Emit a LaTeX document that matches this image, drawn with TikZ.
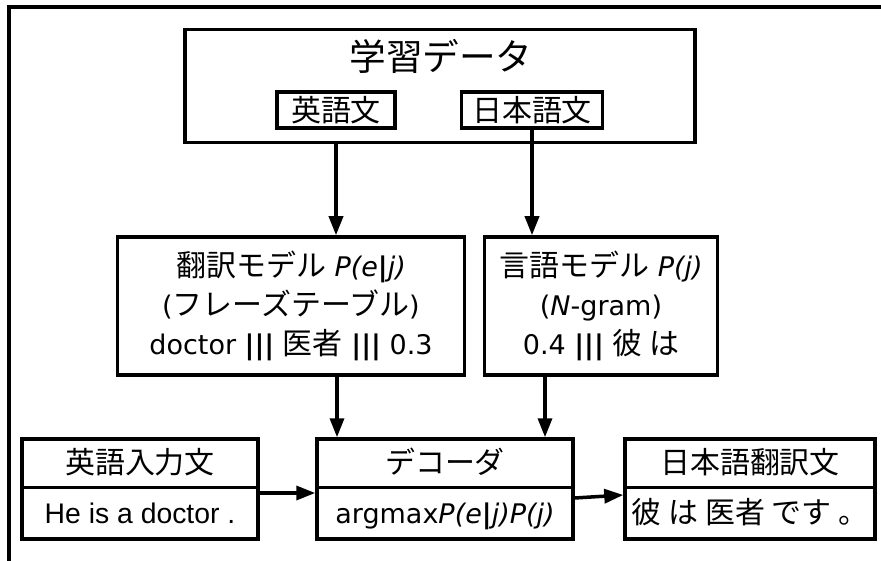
\documentclass[tikz,border=0pt]{standalone}
\usepackage{fontspec}
\setmainfont{DejaVu Sans}
\newfontfamily\jp[Scale=1.11]{Noto Sans CJK JP}
\newfontfamily\arialfont[Scale=1.05]{Liberation Sans}
\usepackage{tikz}
\usetikzlibrary{shapes,arrows.meta,positioning}

\newcommand{\topstrut}{\rule[-12pt]{0pt}{45pt}}
\newcommand{\botstrut}{\rule[-14pt]{0pt}{48pt}}
\newcommand{\bars}{\textbf{|||}}

\begin{document}
\begin{tikzpicture}[
        x=1pt, y=-1pt,
        box/.style={rectangle, draw, line width=3.5pt, inner sep=0pt, align=center, font=\fontsize{27}{39}\selectfont},
        splitbox/.style={rectangle split, rectangle split parts=2, draw, line width=3.5pt, inner xsep=0pt, inner ysep=0pt, align=center, font=\fontsize{27}{33}\selectfont},
        arrow/.style={-{Triangle[length=19pt,width=14pt]}, line width=3.5pt}
    ]
        \useasboundingbox (0,0) rectangle (881,561);
        % outer frame
        \draw[line width=3.5pt] (9,561) -- (9,7) -- (881,7);

        % training data
        \node[box, minimum width=510pt, minimum height=113pt] (data) at (440,86) {};
        \node[font=\fontsize{33}{38}\selectfont] (datatitle) at (441,56) {\jp 学習データ};
        \node[box, minimum width=118pt, minimum height=36pt] (en) at (336,110) {\jp 英語文};
        \node[box, minimum width=141pt, minimum height=36pt] (ja) at (532,110) {\jp 日本語文};

        % models
        \node[box, minimum width=347pt, minimum height=138pt] (tm) at (291,306)
            {{\jp 翻訳モデル} \textit{P(e}\textbf{|}\textit{j)}\\({\jp フレーズテーブル})\\doctor \bars{} {\jp 医者} \bars{} 0.3};
        \node[box, minimum width=233pt, minimum height=138pt] (lm) at (601,306)
            {{\jp 言語モデル} \textit{P(j)}\\(\textit{N}-gram)\\0.4 \bars{} {\jp 彼 は}};

        % input, decoder, output
        \node[splitbox, minimum width=236pt] (input) at (140,489)
            {\topstrut{\jp 英語入力文}\nodepart{two}\botstrut{\arialfont He is a doctor .}};
        \node[splitbox, minimum width=256pt] (dec) at (445,489)
            {\topstrut{\jp デコーダ}\nodepart{two}\botstrut argmax\textit{P(e}\textbf{|}\textit{j)P(j)}};
        \node[splitbox, minimum width=250pt] (out) at (750,489)
            {\topstrut{\jp 日本語翻訳文}\nodepart{two}\botstrut{\jp 彼 は 医者 です 。}};

        \draw[arrow] (en |- data.south) -- (en |- tm.north);
        \draw[arrow] (ja.south) -- (ja |- lm.north);
        \draw[arrow] ([xshift=46pt]tm.south) -- ([xshift=46pt]tm.south |- dec.north);
        \draw[arrow] ([xshift=-56pt]lm.south) -- ([xshift=-56pt]lm.south |- dec.north);
        \draw[arrow] ([yshift=-4pt]input.east) -- ([yshift=-4pt]dec.west);
        \draw[arrow] ([yshift=-9pt]dec.east) -- ([yshift=-6pt]out.west);
    \end{tikzpicture}
\end{document}
